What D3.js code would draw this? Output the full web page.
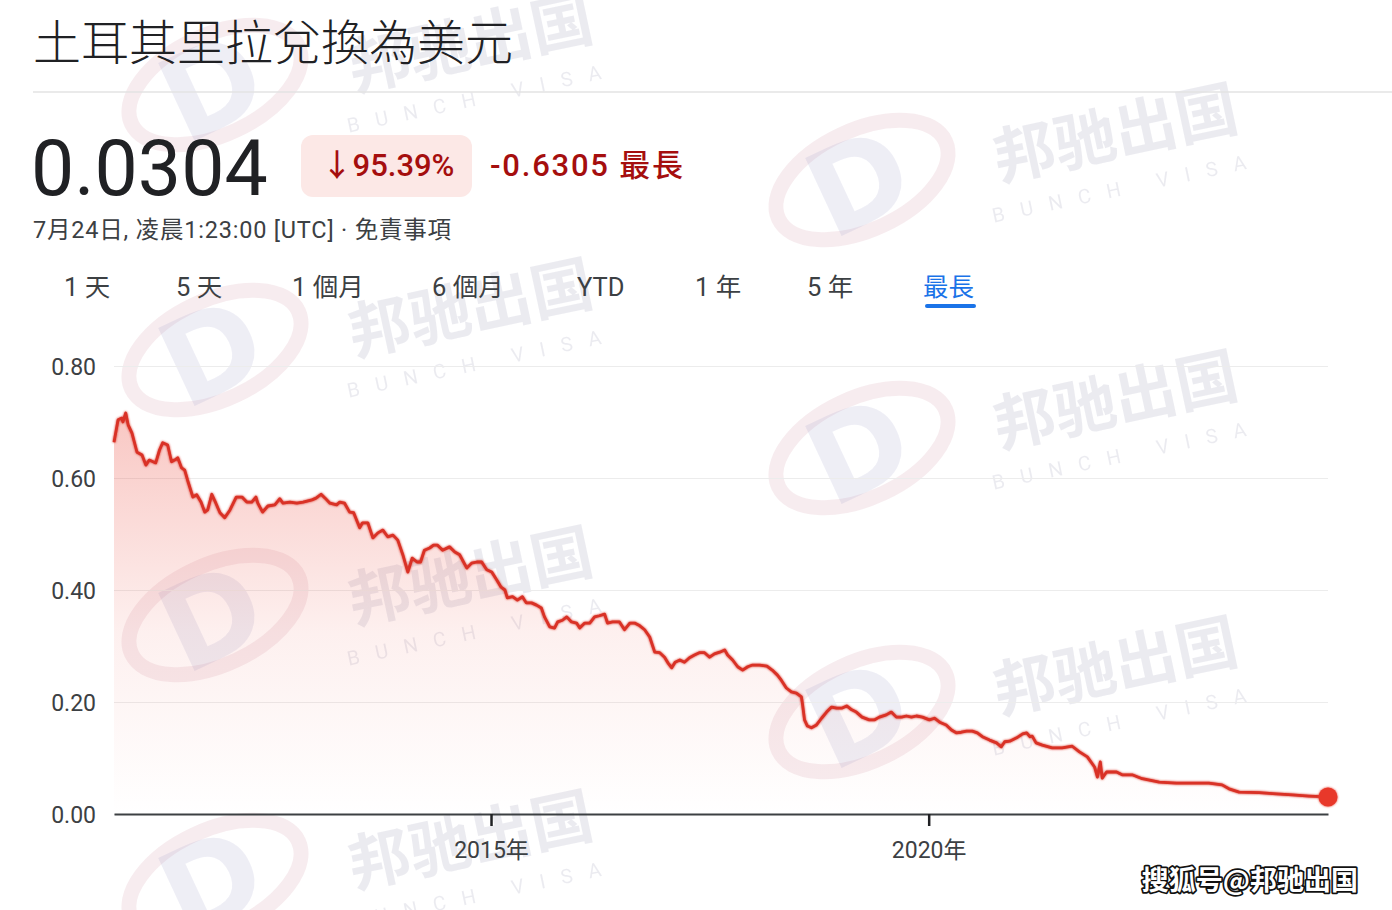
<!DOCTYPE html>
<html>
<head>
<meta charset="utf-8">
<script src="https://cdn.jsdelivr.net/npm/d3@7"></script>
<style>
  html, body { margin: 0; padding: 0; background: #ffffff; }
  svg { display: block; }
</style>
</head>
<body>
<svg id="chart" width="1392" height="910"></svg>
<script>
// ---------- data ----------
const titleText = "土耳其里拉兌換為美元";
const currentValue = "0.0304";
const changePct = "↓95.39%";
const changeAbs = "-0.6305 最長";
const subtitleText = "7月24日, 凌晨1:23:00 [UTC] · 免責事項";
const rangeTabs = ["1 天", "5 天", "1 個月", "6 個月", "YTD", "1 年", "5 年", "最長"];
const activeTab = "最長";
const yTicks = [0, 0.2, 0.4, 0.6, 0.8];
const xTickYears = [2015, 2020];

const dates = [
  "2010-09-11","2010-09-28","2010-10-14","2010-10-18","2010-10-30","2010-11-09","2010-11-25","2010-12-16",
  "2011-01-06","2011-01-22","2011-02-05","2011-02-21","2011-03-04","2011-03-20","2011-04-02","2011-04-23",
  "2011-05-09","2011-05-22","2011-06-04","2011-06-20","2011-07-03","2011-07-15","2011-08-06","2011-08-22",
  "2011-09-09","2011-09-25","2011-10-07","2011-10-24","2011-11-10","2011-11-27","2011-12-17",
  "2012-01-08","2012-02-03","2012-02-27","2012-03-18","2012-04-08","2012-04-25","2012-05-03","2012-05-23",
  "2012-06-14","2012-07-13","2012-08-03","2012-08-16","2012-09-14","2012-10-13","2012-11-08","2012-12-15",
  "2013-01-01","2013-01-22","2013-02-08","2013-02-28","2013-03-28","2013-04-10","2013-04-30","2013-05-21",
  "2013-06-07","2013-07-02","2013-07-14","2013-08-05","2013-08-26","2013-09-16","2013-10-07","2013-10-27",
  "2013-11-18","2013-12-08","2013-12-29",
  "2014-01-19","2014-02-06","2014-02-26","2014-03-13","2014-03-29","2014-04-20","2014-05-06","2014-05-23",
  "2014-06-13","2014-07-12","2014-08-03","2014-08-23","2014-09-22","2014-10-12","2014-11-03","2014-11-23",
  "2014-12-14",
  "2015-01-04","2015-01-25","2015-02-12","2015-02-28","2015-03-10","2015-04-01","2015-04-21","2015-05-12",
  "2015-05-28","2015-06-19","2015-07-10","2015-07-30","2015-08-12","2015-09-03","2015-09-23","2015-10-06",
  "2015-10-26","2015-11-13","2015-12-03","2015-12-24",
  "2016-01-06","2016-01-27","2016-02-17","2016-03-08","2016-03-28","2016-04-19","2016-05-01","2016-05-22",
  "2016-06-20","2016-07-11","2016-08-02","2016-08-22","2016-09-13","2016-10-03","2016-10-24","2016-11-14",
  "2016-12-05","2016-12-25",
  "2017-01-08","2017-01-24","2017-02-07","2017-02-27","2017-03-18","2017-04-08","2017-04-29","2017-05-19",
  "2017-06-10","2017-07-01","2017-07-21","2017-08-12","2017-09-02","2017-09-14","2017-10-05","2017-10-26",
  "2017-11-16","2017-12-07","2017-12-27",
  "2018-01-26","2018-02-25","2018-03-19","2018-04-10","2018-04-26","2018-05-17","2018-06-07","2018-06-28",
  "2018-07-19","2018-07-23","2018-08-01","2018-08-13","2018-08-30","2018-09-20","2018-10-11","2018-11-01",
  "2018-11-22","2018-12-13",
  "2019-01-03","2019-01-24","2019-02-14","2019-03-05","2019-03-29","2019-04-28","2019-05-19","2019-06-09",
  "2019-07-08","2019-07-29","2019-08-19","2019-09-10","2019-09-30","2019-10-21","2019-11-11","2019-12-06",
  "2020-01-04","2020-01-25","2020-02-16","2020-03-14","2020-04-05","2020-04-25","2020-05-16","2020-06-07",
  "2020-07-01","2020-07-22","2020-08-12","2020-09-11","2020-10-10","2020-10-30","2020-11-13","2020-12-04",
  "2021-01-02","2021-01-27","2021-02-13","2021-02-26","2021-03-08","2021-03-24","2021-04-19","2021-05-30",
  "2021-07-11","2021-08-22","2021-09-21","2021-10-24","2021-11-23","2021-12-05","2021-12-17","2021-12-25",
  "2022-01-12","2022-02-23","2022-03-18","2022-04-29","2022-06-10","2022-08-20","2022-10-30",
  "2023-01-06","2023-03-15","2023-05-09","2023-06-07","2023-07-19","2023-10-11","2023-12-21",
  "2024-02-26","2024-05-06","2024-07-24"
];

const rates = [
  0.664,0.704,0.707,0.700,0.716,0.695,0.680,0.646,
  0.641,0.623,0.632,0.629,0.627,0.650,0.663,0.659,
  0.629,0.632,0.636,0.618,0.614,0.596,0.566,0.570,
  0.557,0.539,0.543,0.571,0.555,0.538,0.529,
  0.543,0.566,0.566,0.557,0.557,0.566,0.555,0.539,
  0.550,0.552,0.563,0.555,0.557,0.555,0.557,0.561,
  0.564,0.571,0.564,0.555,0.552,0.557,0.555,0.539,
  0.538,0.511,0.520,0.520,0.493,0.502,0.507,0.495,
  0.498,0.489,0.463,
  0.432,0.457,0.450,0.450,0.471,0.475,0.480,0.480,
  0.471,0.477,0.468,0.463,0.439,0.448,0.450,0.450,
  0.436,
  0.432,0.418,0.405,0.400,0.386,0.388,0.382,0.388,
  0.377,0.377,0.373,0.368,0.352,0.334,0.332,0.343,
  0.346,0.352,0.343,0.341,
  0.332,0.341,0.341,0.352,0.354,0.357,0.341,0.343,
  0.343,0.329,0.341,0.341,0.336,0.329,0.316,0.289,
  0.288,0.280,
  0.270,0.261,0.271,0.275,0.271,0.279,0.284,0.288,
  0.288,0.280,0.286,0.289,0.293,0.284,0.275,0.263,
  0.257,0.263,0.266,
  0.266,0.264,0.257,0.248,0.239,0.225,0.218,0.216,
  0.209,0.198,0.168,0.157,0.154,0.159,0.171,0.182,
  0.191,0.189,
  0.189,0.193,0.186,0.182,0.173,0.168,0.168,0.173,
  0.177,0.182,0.173,0.173,0.175,0.173,0.175,0.173,
  0.168,0.171,0.164,0.159,0.150,0.145,0.146,0.148,
  0.148,0.145,0.138,0.132,0.127,0.120,0.129,0.130,
  0.136,0.143,0.145,0.138,0.139,0.127,0.123,0.118,
  0.118,0.121,0.111,0.102,0.084,0.066,0.093,0.064,
  0.075,0.075,0.070,0.070,0.063,0.057,0.055,
  0.055,0.055,0.052,0.045,0.039,0.038,0.036,
  0.034,0.032,0.0304
];

// ---------- setup ----------
const svg = d3.select("#chart");
const W = 1392, H = 910;
const font = "Roboto, 'Noto Sans CJK TC', 'Noto Sans', sans-serif";
const cjk = "'Noto Sans CJK TC', Roboto, sans-serif";

svg.append("rect").attr("width", W).attr("height", H).attr("fill", "#ffffff");

const parse = d3.timeParse("%Y-%m-%d");
const data = dates.map((d, i) => ({ date: parse(d), value: rates[i] }));

const margin = { left: 114, right: 64, top: 366, bottom: 96 };
const x = d3.scaleTime()
  .domain(d3.extent(data, d => d.date))
  .range([margin.left, W - margin.right]);
const y = d3.scaleLinear()
  .domain([0, 0.8])
  .range([H - margin.bottom, margin.top]);

// ---------- watermarks (faint, behind everything) ----------
const wm = svg.append("g").attr("class", "watermarks").attr("pointer-events", "none");
const wmSpots = [
  [215, 85, 475, 65], [215, 350, 475, 330], [215, 615, 475, 598], [215, 880, 475, 862],
  [862, 180, 1120, 155], [862, 448, 1120, 422], [862, 712, 1120, 688]
];
wmSpots.forEach(([lx, ly, tx, ty]) => {
  const logo = wm.append("g").attr("transform", `translate(${lx},${ly}) rotate(-25)`);
  logo.append("ellipse").attr("rx", 92).attr("ry", 50).attr("fill", "none")
    .attr("stroke", "#d9a8b8").attr("stroke-width", 15).attr("opacity", 0.22);
  logo.append("text").attr("x", -4).attr("y", 42).attr("text-anchor", "middle")
    .attr("font-family", "'DejaVu Sans', sans-serif").attr("font-weight", "bold")
    .attr("font-size", 118).attr("fill", "#9a9ac8").attr("opacity", 0.16).text("D");
  const t = wm.append("g").attr("transform", `translate(${tx},${ty}) rotate(-12)`).attr("opacity", 0.10);
  t.append("text").attr("text-anchor", "middle").attr("font-family", cjk).attr("font-weight", "bold")
    .attr("font-size", 62).attr("fill", "#4a4a7a").text("邦驰出国");
  t.append("text").attr("y", 40).attr("text-anchor", "middle").attr("font-family", font)
    .attr("font-size", 20).attr("letter-spacing", 16).attr("fill", "#4a4a7a").text("BUNCH  VISA");
});

// ---------- header ----------
svg.append("text").attr("x", 33).attr("y", 60)
  .attr("font-family", cjk).attr("font-size", 48).attr("font-weight", 300)
  .attr("fill", "#202124").text(titleText);

svg.append("line").attr("x1", 33).attr("x2", W).attr("y1", 92).attr("y2", 92)
  .attr("stroke", "#e3e3e3").attr("stroke-width", 1.5);

svg.append("text").attr("x", 31).attr("y", 195)
  .attr("font-family", font).attr("font-size", 77).attr("font-weight", 400)
  .attr("fill", "#202124").text(currentValue);

svg.append("rect").attr("x", 301).attr("y", 135).attr("width", 171).attr("height", 62)
  .attr("rx", 12).attr("fill", "#fce8e6");
svg.append("text").attr("x", 388).attr("y", 176).attr("text-anchor", "middle")
  .attr("font-family", font).attr("font-size", 31).attr("font-weight", 500)
  .attr("fill", "#a50e0e").text(changePct);
svg.append("text").attr("x", 490).attr("y", 176)
  .attr("font-family", font).attr("font-size", 31).attr("font-weight", 500)
  .attr("fill", "#a50e0e").attr("textLength", 193).attr("lengthAdjust", "spacing").text(changeAbs);

svg.append("text").attr("x", 33).attr("y", 238)
  .attr("font-family", font).attr("font-size", 23.5)
  .attr("fill", "#3c4043").attr("textLength", 418).attr("lengthAdjust", "spacing").text(subtitleText);

// tabs
const tabX = [64, 176, 292, 432, 577, 695, 807, 923];
rangeTabs.forEach((t, i) => {
  svg.append("text").attr("x", tabX[i]).attr("y", 296)
    .attr("font-family", font).attr("font-size", 25.5)
    .attr("fill", t === activeTab ? "#1a73e8" : "#3c4043").text(t);
  if (t === activeTab) {
    svg.append("rect").attr("x", tabX[i] + 2).attr("y", 304).attr("width", 51).attr("height", 4)
      .attr("rx", 2).attr("fill", "#1a73e8");
  }
});

// ---------- chart ----------
const defs = svg.append("defs");
const grad = defs.append("linearGradient").attr("id", "areaGrad")
  .attr("gradientUnits", "userSpaceOnUse")
  .attr("x1", 0).attr("x2", 0).attr("y1", y(0.72)).attr("y2", y(0));
grad.append("stop").attr("offset", "0%").attr("stop-color", "#ea4335").attr("stop-opacity", 0.30);
grad.append("stop").attr("offset", "55%").attr("stop-color", "#ea4335").attr("stop-opacity", 0.08);
grad.append("stop").attr("offset", "100%").attr("stop-color", "#ea4335").attr("stop-opacity", 0.0);

const glow = defs.append("filter").attr("id", "glow").attr("x", "-50%").attr("y", "-50%").attr("width", "200%").attr("height", "200%");
glow.append("feGaussianBlur").attr("stdDeviation", 1.2).attr("result", "b");
const fm = glow.append("feMerge");
fm.append("feMergeNode").attr("in", "b");
fm.append("feMergeNode").attr("in", "SourceGraphic");

// gridlines
const yAxis = d3.axisLeft(y).tickValues(yTicks).tickFormat(d3.format(".2f"))
  .tickSize(-(W - margin.right - margin.left)).tickPadding(18);
const gy = svg.append("g").attr("transform", `translate(${margin.left},0)`).call(yAxis);
gy.select(".domain").remove();
gy.selectAll(".tick line").attr("stroke", "#ececec").attr("stroke-width", 1);
gy.selectAll(".tick text").attr("font-family", font).attr("font-size", 23)
  .attr("fill", "#3c4043").attr("dy", "0.35em");

// area + line
const area = d3.area().x(d => x(d.date)).y0(y(0)).y1(d => y(d.value));
const line = d3.line().x(d => x(d.date)).y(d => y(d.value));

svg.append("path").datum(data).attr("d", area).attr("fill", "url(#areaGrad)");
svg.append("path").datum(data).attr("d", line).attr("fill", "none")
  .attr("stroke", "#d93025").attr("stroke-width", 2.8).attr("stroke-linejoin", "round")
  .attr("filter", "url(#glow)");

// x axis
const xAxis = d3.axisBottom(x)
  .tickValues(xTickYears.map(yr => new Date(yr, 0, 1)))
  .tickFormat(d => d.getFullYear() + "年").tickSize(12).tickSizeOuter(0).tickPadding(16);
const gx = svg.append("g").attr("transform", `translate(0,${y(0)})`).call(xAxis);
gx.select(".domain").attr("stroke", "#3c4043").attr("stroke-width", 2);
gx.selectAll(".tick line").attr("stroke", "#202124").attr("stroke-width", 2.5);
gx.selectAll(".tick text").attr("font-family", font).attr("font-size", 23).attr("fill", "#3c4043");

// end dot
const last = data[data.length - 1];
svg.append("circle").attr("cx", x(last.date)).attr("cy", y(last.value)).attr("r", 9.5)
  .attr("fill", "#e8392c").attr("filter", "url(#glow)");

// source text
svg.append("text").attr("x", 1358).attr("y", 890).attr("text-anchor", "end")
  .attr("font-family", cjk).attr("font-size", 27).attr("font-weight", "bold")
  .attr("fill", "#ffffff").attr("stroke", "#111").attr("stroke-width", 3.5)
  .attr("paint-order", "stroke").attr("stroke-linejoin", "round")
  .text("搜狐号@邦驰出国");
</script>
</body>
</html>
